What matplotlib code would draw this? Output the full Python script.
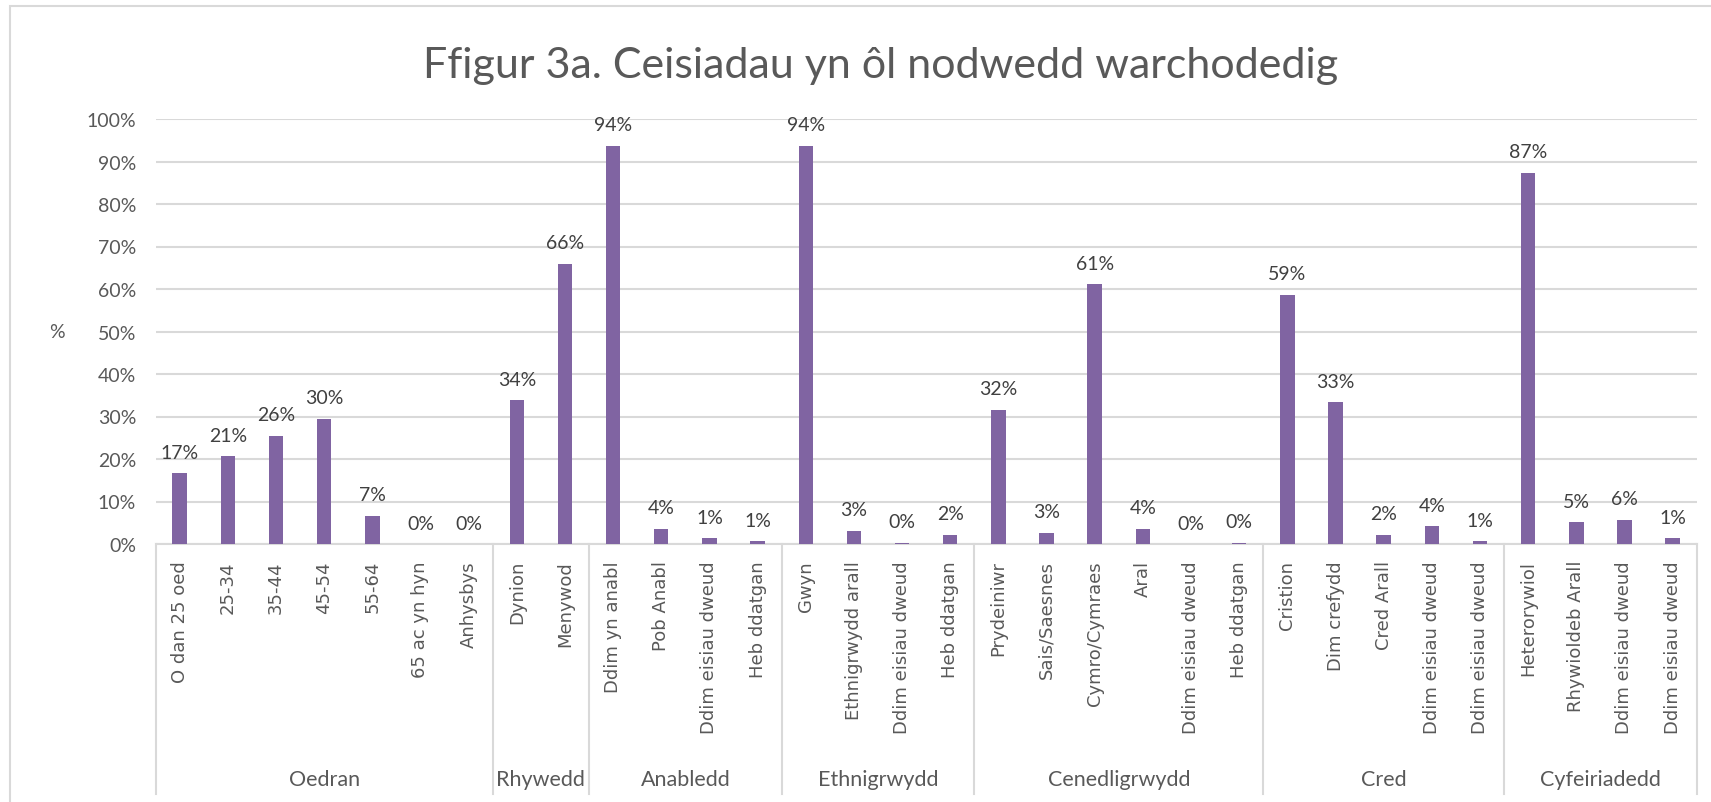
import numpy as np
import matplotlib.pyplot as plt
from matplotlib.patches import Rectangle
from matplotlib.transforms import blended_transform_factory

# groups and the categories inside them (values in %)
groups = ['Oedran', 'Rhywedd', 'Anabledd', 'Ethnigrwydd', 'Cenedligrwydd', 'Cred', 'Cyfeiriadedd']

oedran = ['O dan 25 oed', '25-34', '35-44', '45-54', '55-64', '65 ac yn hyn', 'Anhysbys']
oedran_vals = [16.7, 20.6, 25.5, 29.5, 6.7, 0.0, 0.0]

rhywedd = ['Dynion', 'Menywod']
rhywedd_vals = [33.8, 66.0]

anabledd = ['Ddim yn anabl', 'Pob Anabl', 'Ddim eisiau dweud', 'Heb ddatgan']
anabledd_vals = [93.7, 3.6, 1.3, 0.7]

ethnig = ['Gwyn', 'Ethnigrwydd arall', 'Ddim eisiau dweud', 'Heb ddatgan']
ethnig_vals = [93.7, 3.1, 0.3, 2.2]

cenedl = ['Prydeiniwr', 'Sais/Saesnes', 'Cymro/Cymraes', 'Aral', 'Ddim eisiau dweud', 'Heb ddatgan']
cenedl_vals = [31.6, 2.7, 61.1, 3.6, 0.0, 0.3]

cred = ['Cristion', 'Dim crefydd', 'Cred Arall', 'Ddim eisiau dweud', 'Ddim eisiau dweud']
cred_vals = [58.6, 33.4, 2.2, 4.2, 0.7]

cyfeir = ['Heterorywiol', 'Rhywioldeb Arall', 'Ddim eisiau dweud', 'Ddim eisiau dweud']
cyfeir_vals = [87.3, 5.1, 5.7, 1.3]

cats_by_group = [oedran, rhywedd, anabledd, ethnig, cenedl, cred, cyfeir]
vals_by_group = [oedran_vals, rhywedd_vals, anabledd_vals, ethnig_vals, cenedl_vals, cred_vals, cyfeir_vals]

labels = [c for g in cats_by_group for c in g]
values = [v for g in vals_by_group for v in g]
x = np.arange(len(labels))

txt = '#595959'
grid = '#d9d9d9'
purple = '#8064a2'
W, H = 1711, 803

plt.rcParams['font.family'] = ['Lato', 'DejaVu Sans']

fig = plt.figure(figsize=(W / 100, H / 100), dpi=100)
ax = fig.add_axes([155.6 / W, 1 - 545 / H, (1696.7 - 155.6) / W, 425 / H])

bars = ax.bar(x, values, width=0.3, color=purple, zorder=3)
for xi, v in zip(x, values):
    ax.annotate(f'{v:.0f}%', (xi, v), xytext=(0, 9), textcoords='offset points',
                ha='center', va='bottom', fontsize=14, color='#404040')

ax.set_xlim(-0.5, len(labels) - 0.5)
ax.set_ylim(0, 100)
ax.set_yticks(np.arange(0, 101, 10))
ax.set_yticklabels([f'{t}%' for t in range(0, 101, 10)], fontsize=14, color=txt)
ax.yaxis.grid(True, color=grid, linewidth=1.5, zorder=0)
ax.tick_params(axis='y', length=0, pad=14)
ax.set_xticks([])
for s in ['top', 'right', 'left']:
    ax.spines[s].set_visible(False)
ax.spines['bottom'].set_color(grid)
ax.spines['bottom'].set_linewidth(1.5)

ax.text(-0.064, 0.5, '%', transform=ax.transAxes, fontsize=14, color=txt, ha='center', va='center')

# multi-level category axis: rotated category names, group separators and group names
tr = blended_transform_factory(ax.transData, ax.transAxes)
for xi, lab in zip(x, labels):
    ax.text(xi, -(561 - 545) / 425, lab, transform=tr, rotation=90, ha='center', va='top',
            fontsize=13, color=txt, family='DejaVu Sans')

bottom = -(795 - 545) / 425
edges = np.cumsum([0] + [len(g) for g in cats_by_group]) - 0.5
for e in edges:
    ax.plot([e, e], [0, bottom], color=grid, linewidth=1.5, transform=tr, clip_on=False)
for i, name in enumerate(groups):
    mid = (edges[i] + edges[i + 1]) / 2
    ax.text(mid, -(780 - 545) / 425, name, transform=tr, ha='center', va='center',
            fontsize=15.5, color=txt)

fig.text(881 / W, 1 - 66 / H, 'Ffigur 3a. Ceisiadau yn ôl nodwedd warchodedig',
         ha='center', va='center', fontsize=31, color=txt)

fig.patches.append(Rectangle((10 / W, -0.02), 1.05, 1 - 7 / H + 0.02, transform=fig.transFigure,
                             fill=False, edgecolor=grid, linewidth=1.5))

fig.savefig('out.png', dpi=100)
